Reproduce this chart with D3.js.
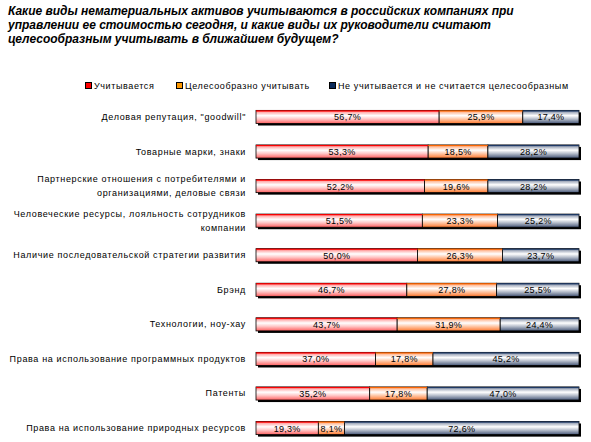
<!DOCTYPE html>
<html><head><meta charset="utf-8">
<script src="https://cdn.jsdelivr.net/npm/d3@7"></script>
<style>body{margin:0;background:#fff}svg{display:block}</style>
</head><body>
<script>
const titleLines = ["Какие виды нематериальных активов учитываются в российских компаниях при",
  "управлении ее стоимостью сегодня, и какие виды их руководители считают",
  "целесообразным учитывать в ближайшем будущем?"];
const categories = [
  ["Деловая репутация, \"goodwill\""],
  ["Товарные марки, знаки"],
  ["Партнерские отношения с потребителями и", "организациями, деловые связи"],
  ["Человеческие ресурсы, лояльность сотрудников", "компании"],
  ["Наличие последовательской стратегии развития"],
  ["Брэнд"],
  ["Технологии, ноу-хау"],
  ["Права на использование программных продуктов"],
  ["Патенты"],
  ["Права на использование природных ресурсов"]
];
const seriesNames = ["Учитывается", "Целесообразно учитывать", "Не учитывается и не считается целесообразным"];
const accounted = [56.7, 53.3, 52.2, 51.5, 50.0, 46.7, 43.7, 37.0, 35.2, 19.3];
const advisable = [25.9, 18.5, 19.6, 23.3, 26.3, 27.8, 31.9, 17.8, 17.8, 8.1];
const notAccounted = [17.4, 28.2, 28.2, 25.2, 23.7, 25.5, 24.4, 45.2, 47.0, 72.6];
const seriesColors = ["#ff0000", "#ff9900", "#0a2a5a"];
const topColors = ["#ff0000", "#ff6600", "#1f3a66"];
const gradStops = [
  [["#ff0000",0],["#ffb0b0",0.15],["#ffffff",0.4],["#ffc8c8",0.65],["#ff6060",1]],
  [["#ff6600",0],["#ffc0a0",0.15],["#ffffff",0.4],["#ffc8a8",0.65],["#ff7a30",1]],
  [["#1f3a66",0],["#a8b0c0",0.15],["#ffffff",0.4],["#b8bfcc",0.65],["#485878",1]]
];

const W = 591, H = 442;
const FONT = "Liberation Sans, Arial, sans-serif";
const svg = d3.select("body").append("svg").attr("width", W).attr("height", H);
const defs = svg.append("defs");
gradStops.forEach((st, i) => {
  const g = defs.append("linearGradient").attr("id", "g" + i).attr("x1", 0).attr("y1", 0).attr("x2", 0).attr("y2", 1);
  st.forEach(s => g.append("stop").attr("offset", s[1]).attr("stop-color", s[0]));
});

// title
titleLines.forEach((t, i) => {
  svg.append("text").attr("x", 8).attr("y", 15 + i * 14)
    .attr("font-family", FONT).attr("font-size", 12)
    .attr("font-weight", "bold").attr("font-style", "italic").attr("fill", "#000").text(t);
});

// legend
const legendX = [85, 176, 329];
seriesNames.forEach((n, i) => {
  const g = svg.append("g").attr("transform", `translate(${legendX[i]},82)`);
  g.append("rect").attr("x", 0.5).attr("y", 0.5).attr("width", 6).attr("height", 6)
    .attr("fill", seriesColors[i]).attr("stroke", "#000").attr("stroke-width", 1);
  g.append("text").attr("x", 9).attr("y", 7).attr("font-family", FONT)
    .attr("font-size", 9).attr("letter-spacing", 0.6).attr("fill", "#000").text(n);
});

const x = d3.scaleLinear().domain([0, 100]).range([256, 579]);
const y = d3.scaleBand().domain(d3.range(categories.length)).range([100, 445]).paddingInner(0.62).paddingOuter(0.3);

const data = categories.map((c, i) => {
  const vals = [accounted[i], advisable[i], notAccounted[i]];
  let acc = 0;
  return vals.map((v, k) => { const s = {k, v, x0: acc, x1: acc + v, i}; acc += v; return s; });
});

const rows = svg.append("g").selectAll("g").data(data).join("g")
  .attr("transform", (d, i) => `translate(0,${y(i)})`);
const bh = y.bandwidth();
rows.append("rect").attr("x", x(0) + 2).attr("y", 2).attr("width", x(100) - x(0)).attr("height", bh).attr("fill", "#000");
rows.selectAll("rect.seg").data(d => d).join("rect").attr("class", "seg")
  .attr("x", d => x(d.x0)).attr("y", 0).attr("width", d => x(d.x1) - x(d.x0)).attr("height", bh)
  .attr("fill", d => `url(#g${d.k})`).attr("stroke", "#000").attr("stroke-width", 0.8);
rows.selectAll("line.top").data(d => d).join("line").attr("class", "top")
  .attr("x1", d => x(d.x0)).attr("x2", d => x(d.x1)).attr("y1", 0.5).attr("y2", 0.5)
  .attr("stroke", d => topColors[d.k]).attr("stroke-width", 1);
rows.selectAll("text.val").data(d => d).join("text").attr("class", "val")
  .attr("x", d => (x(d.x0) + x(d.x1)) / 2).attr("y", bh / 2 + 3.5).attr("text-anchor", "middle")
  .attr("font-family", FONT).attr("font-size", 9).attr("letter-spacing", 0.3).attr("fill", "#000")
  .text(d => d.v.toFixed(1).replace(".", ",") + "%");

// category labels
svg.append("g").selectAll("text").data(categories).join("text")
  .attr("text-anchor", "end").attr("font-family", FONT).attr("font-size", 9).attr("letter-spacing", 0.65).attr("fill", "#000")
  .each(function(lines, i) {
    const cy = y(i) + bh / 2 + 3;
    const t = d3.select(this);
    lines.forEach((l, j) => {
      t.append("tspan").attr("x", 246).attr("y", cy + (j - (lines.length - 1) / 2) * 14).text(l);
    });
  });
</script>
</body></html>
